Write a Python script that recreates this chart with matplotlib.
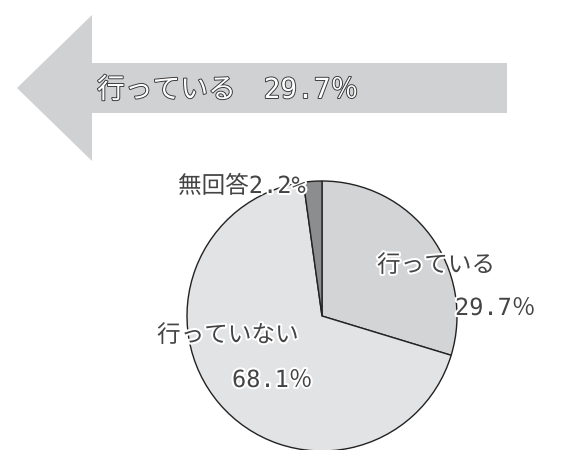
import matplotlib
matplotlib.use('Agg')
import matplotlib.pyplot as plt
from matplotlib.patches import FancyArrow
import matplotlib.patheffects as pe

plt.rcParams['font.family'] = ['DejaVu Sans Mono', 'Noto Sans CJK JP']

labels = ['行っている', '行っていない', '無回答']
values = [29.7, 68.1, 2.2]
colors = ['#d3d4d6', '#e2e3e5', '#8c8d8f']

fig = plt.figure(figsize=(5.86, 4.5), dpi=100)
ax = fig.add_axes([0, 0, 1, 1])

# big arrow on top
arrow = FancyArrow(507, 88, -490, 0, width=50, head_width=146, head_length=75,
                   length_includes_head=True, color='#d0d1d3', lw=0)
ax.add_patch(arrow)

# pie (y axis inverted, so counterclock=True draws clockwise on screen)
ax.pie(values, colors=colors, startangle=270, counterclock=True,
       center=(322, 316), radius=135, frame=True,
       wedgeprops=dict(edgecolor='#222222', linewidth=1.0))
ax.set_xlim(0, 586)
ax.set_ylim(450, 0)
ax.set_aspect('auto')
ax.axis('off')

ax.text(97, 90, f'{labels[0]}　{values[0]}％', fontsize=20, color='white',
        va='center', ha='left',
        path_effects=[pe.withStroke(linewidth=1.3, foreground='#333333')])

halo = [pe.withStroke(linewidth=3, foreground='white')]
kw = dict(fontsize=17, color='#444444', path_effects=halo)
ax.text(377, 265, labels[0], ha='left', va='center', **kw)
ax.text(455, 308, f'{values[0]}％', ha='left', va='center', **kw)
ax.text(157, 335, labels[1], ha='left', va='center', **kw)
ax.text(232, 380, f'{values[1]}％', ha='left', va='center', **kw)
ax.text(178, 186, f'{labels[2]}{values[2]}%', ha='left', va='center', **kw)

fig.savefig('out.png', dpi=100)
